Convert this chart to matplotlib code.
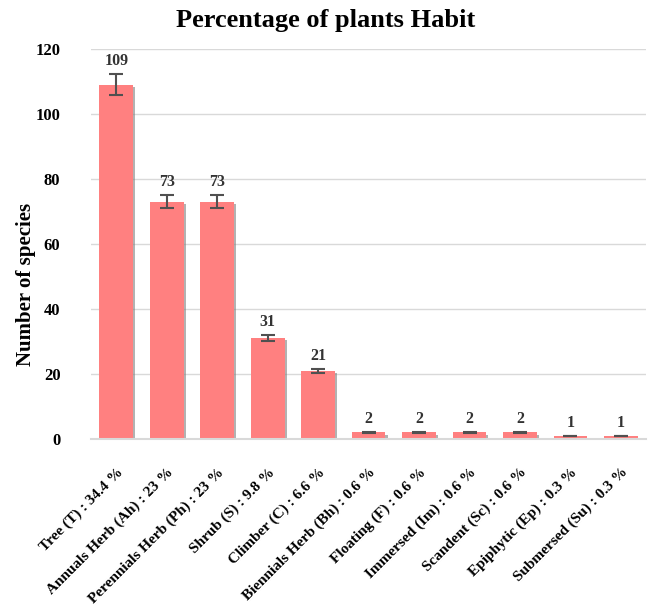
import numpy as np
import matplotlib.pyplot as plt
import matplotlib.patheffects as pe

categories = ['Tree (T) : 34.4 %', 'Annuals Herb (Ah) : 23 %', 'Perennials Herb (Ph) : 23 %',
              'Shrub (S) : 9.8 %', 'Climber (C) : 6.6 %', 'Biennials Herb (Bh) : 0.6 %',
              'Floating (F) : 0.6 %', 'Immersed (Im) : 0.6 %', 'Scandent (Sc) : 0.6 %',
              'Epiphytic (Ep) : 0.3 %', 'Submersed (Su) : 0.3 %']
counts = [109, 73, 73, 31, 21, 2, 2, 2, 2, 1, 1]
errors = [3.3, 2.0, 2.0, 1.0, 0.6, 0.3, 0.3, 0.3, 0.3, 0, 0]

fig = plt.figure(figsize=(6.52, 6.07), dpi=100)
ax = fig.add_axes([0.1396, 0.2768, 0.8514, 0.6425])

x = np.arange(len(categories))
bars = ax.bar(x, counts, width=0.67, color='#FF8080', zorder=2)
for b in bars:
    b.set_path_effects([pe.SimplePatchShadow(offset=(1.5, -1.5), shadow_rgbFace='#808080', alpha=0.6),
                        pe.Normal()])

ax.errorbar(x, counts, yerr=errors, fmt='none', ecolor='#505050', elinewidth=1.5,
            capsize=5, capthick=1.5, zorder=3)

for xi, c, e in zip(x, counts, errors):
    ax.text(xi, c + e + 1.5, str(c), ha='center', va='bottom', fontsize=11.5,
            fontweight='bold', family='Liberation Serif', color='#333333')

ax.set_xlim(-0.5, len(categories) - 0.5)
ax.set_ylim(0, 120)
ax.set_yticks(np.arange(0, 121, 20))
ax.yaxis.grid(True, color='#D9D9D9', linewidth=1, zorder=0)
ax.set_axisbelow(True)
for s in ['top', 'right', 'left']:
    ax.spines[s].set_visible(False)
ax.spines['bottom'].set_color('#D9D9D9')
ax.spines['bottom'].set_linewidth(1.5)
ax.tick_params(axis='both', length=0)
ax.tick_params(axis='y', pad=22)
for lab in ax.get_yticklabels():
    lab.set_fontsize(12)
    lab.set_fontweight('bold')
    lab.set_family('Liberation Serif')

ax.set_xticks(x)
ax.set_xticklabels(categories, rotation=45, ha='right', rotation_mode='anchor',
                   fontsize=11, fontweight='bold', family='Liberation Serif')
ax.tick_params(axis='x', pad=19)

ax.set_ylabel('Number of species', fontsize=15, fontweight='bold', family='Liberation Serif')
ax.yaxis.set_label_coords(-0.1, 0.395)
fig.text(0.5, 0.966, 'Percentage of plants Habit', ha='center', va='center',
         fontsize=19, fontweight='bold', family='Liberation Serif')

plt.savefig('out.png', dpi=100)
